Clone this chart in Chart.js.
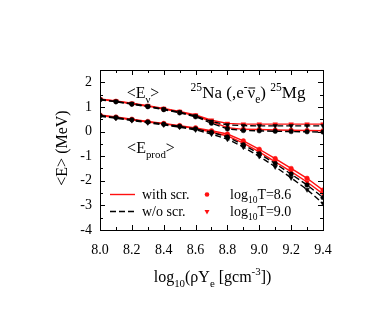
<!DOCTYPE html>
<html>
<head>
<meta charset="utf-8">
<script src="https://cdn.jsdelivr.net/npm/chart.js@4"></script>
<style>
  html, body { margin: 0; padding: 0; background: #fff; }
  #wrap { width: 371px; height: 335px; }
</style>
</head>
<body>
<div id="wrap"><canvas id="myChart"></canvas></div>
<script>
// log10(rho Ye)
var density = [8.0, 8.1, 8.2, 8.3, 8.4, 8.5, 8.6, 8.7, 8.8, 8.9, 9.0, 9.1, 9.2, 9.3, 9.4];

// <E_nu>
var enuScr86   = [1.31, 1.23, 1.13, 1.03, 0.91, 0.79, 0.64, 0.40, 0.16, 0.09, 0.08, 0.06, 0.05, 0.04, 0.03];
var enuNoScr86 = [1.29, 1.21, 1.11, 1.01, 0.89, 0.76, 0.60, 0.34, 0.11, 0.04, 0.03, 0.01, 0.00, -0.01, -0.02];
var enuScr90   = [1.32, 1.24, 1.15, 1.05, 0.94, 0.82, 0.67, 0.46, 0.33, 0.30, 0.30, 0.30, 0.30, 0.30, 0.30];
var enuNoScr90 = [1.30, 1.22, 1.13, 1.03, 0.91, 0.79, 0.63, 0.41, 0.27, 0.24, 0.23, 0.23, 0.23, 0.23, 0.23];

// <E_prod>
var eprodScr86   = [0.67, 0.59, 0.50, 0.41, 0.33, 0.24, 0.15, 0.03, -0.10, -0.38, -0.72, -1.10, -1.50, -1.90, -2.38];
var eprodNoScr86 = [0.65, 0.57, 0.48, 0.39, 0.30, 0.21, 0.11, -0.03, -0.22, -0.54, -0.90, -1.30, -1.73, -2.17, -2.68];
var eprodScr90   = [0.65, 0.57, 0.48, 0.39, 0.31, 0.22, 0.12, -0.02, -0.18, -0.47, -0.83, -1.23, -1.63, -2.05, -2.53];
var eprodNoScr90 = [0.62, 0.54, 0.45, 0.36, 0.27, 0.18, 0.07, -0.10, -0.31, -0.63, -1.01, -1.43, -1.88, -2.36, -2.92];

var xTicks = [8.0, 8.2, 8.4, 8.6, 8.8, 9.0, 9.2, 9.4];
var yTicks = [2, 1, 0, -1, -2, -3, -4];

var RED = "#ff1010";
var FONT = "'Liberation Serif', 'DejaVu Serif', serif";

function pts(ys) {
  return density.map(function (x, i) { return { x: x, y: ys[i] }; });
}

function series(ys, scr, tri) {
  var c = scr ? RED : "#000";
  return {
    data: pts(ys),
    borderColor: c,
    backgroundColor: c,
    borderWidth: 1.4,
    borderDash: scr ? [] : [6, 3],
    pointStyle: tri ? "triangle" : "circle",
    pointRotation: tri ? 180 : 0,
    pointRadius: tri ? 2.7 : 2.3,
    pointBorderWidth: 0.5,
    tension: 0,
    fill: false
  };
}

// text with sub/superscripts: parts = [[text, shift]] shift 0 normal, -1 sub, 1 sup
function richWidth(ctx, parts, size) {
  var w = 0;
  parts.forEach(function (p) {
    var s = p[1] === 0 ? size : size * 0.68;
    ctx.font = s + "px " + FONT;
    w += ctx.measureText(p[0]).width;
  });
  return w;
}
function drawRich(ctx, parts, x, y, size, align, color) {
  var w = richWidth(ctx, parts, size);
  if (align === "center") x -= w / 2;
  if (align === "right") x -= w;
  ctx.fillStyle = color || "#000";
  ctx.textBaseline = "alphabetic";
  ctx.textAlign = "left";
  parts.forEach(function (p) {
    var s = p[1] === 0 ? size : size * 0.68;
    ctx.font = s + "px " + FONT;
    var dy = p[1] === -1 ? size * 0.3 : (p[1] === 1 ? -size * 0.42 : 0);
    ctx.fillText(p[0], x, y + dy);
    if (p[2]) { // overbar
      var tw = ctx.measureText(p[0]).width;
      ctx.fillRect(x + 1, y + dy - s * 0.62, tw - 1, 1);
    }
    x += ctx.measureText(p[0]).width;
  });
}

var decor = {
  id: "decor",
  afterDraw: function (chart) {
    var ctx = chart.ctx;
    var a = chart.chartArea;
    var xs = chart.scales.x, ys = chart.scales.y;
    ctx.save();
    ctx.strokeStyle = "#000";
    ctx.lineWidth = 1;
    ctx.strokeRect(Math.round(a.left) + 0.5, Math.round(a.top) + 0.5,
      Math.round(a.right - a.left), Math.round(a.bottom - a.top));

    // inward ticks
    ctx.beginPath();
    for (var v = 80; v <= 94; v++) {
      var px = Math.round(xs.getPixelForValue(v / 10)) + 0.5;
      var len = (v % 2 === 0) ? 5 : 3;
      ctx.moveTo(px, a.bottom); ctx.lineTo(px, a.bottom - len);
      ctx.moveTo(px, a.top); ctx.lineTo(px, a.top + len);
    }
    for (var k = -8; k <= 5; k++) {
      var py = Math.round(ys.getPixelForValue(k / 2)) + 0.5;
      var l2 = (k % 2 === 0) ? 5 : 3;
      ctx.moveTo(a.left, py); ctx.lineTo(a.left + l2, py);
      ctx.moveTo(a.right, py); ctx.lineTo(a.right - l2, py);
    }
    ctx.stroke();

    // tick labels
    ctx.fillStyle = "#000";
    ctx.font = "14px " + FONT;
    ctx.textAlign = "center";
    ctx.textBaseline = "middle";
    xTicks.forEach(function (t) {
      ctx.fillText(t.toFixed(1), xs.getPixelForValue(t), a.bottom + 20);
    });
    ctx.textAlign = "right";
    yTicks.forEach(function (t) {
      ctx.fillText(String(t), a.left - 8, ys.getPixelForValue(t));
    });

    // axis titles
    drawRich(ctx, [["log", 0], ["10", -1], ["(\u03c1Y", 0], ["e", -1], [" [gcm", 0], ["-3", 1], ["])", 0]],
      (a.left + a.right) / 2 + 1, a.bottom + 52, 16, "center");
    ctx.save();
    ctx.translate(a.left - 38, (a.top + a.bottom) / 2 - 2);
    ctx.rotate(-Math.PI / 2);
    drawRich(ctx, [["<E> (MeV)", 0]], 0, 5, 16, "center");
    ctx.restore();

    // annotations
    drawRich(ctx, [["<E", 0], ["\u03bd", -1], [">", 0]], 143, 98, 16, "center");
    drawRich(ctx, [["<E", 0], ["prod", -1], [">", 0]], 151, 153, 16, "center");
    drawRich(ctx, [["25", 1], ["Na (,e", 0], ["-", 1], ["\u03bd", 0, true], ["e", -1], [") ", 0], ["25", 1], ["Mg", 0]],
      248, 98, 17, "center");

    // legend
    ctx.lineWidth = 1.4;
    ctx.strokeStyle = RED;
    ctx.setLineDash([]);
    ctx.beginPath(); ctx.moveTo(110, 194.5); ctx.lineTo(135, 194.5); ctx.stroke();
    ctx.strokeStyle = "#000";
    ctx.setLineDash([6, 3]);
    ctx.beginPath(); ctx.moveTo(110, 211.5); ctx.lineTo(135, 211.5); ctx.stroke();
    ctx.setLineDash([]);
    drawRich(ctx, [["with scr.", 0]], 142, 199, 14, "left");
    drawRich(ctx, [["w/o scr.", 0]], 142, 216, 14, "left");
    ctx.fillStyle = RED;
    ctx.beginPath(); ctx.arc(207, 194.5, 2.3, 0, Math.PI * 2); ctx.fill();
    ctx.beginPath(); ctx.moveTo(204.5, 210); ctx.lineTo(209.5, 210); ctx.lineTo(207, 214.5); ctx.closePath(); ctx.fill();
    drawRich(ctx, [["log", 0], ["10", -1], ["T=8.6", 0]], 230, 199, 14, "left");
    drawRich(ctx, [["log", 0], ["10", -1], ["T=9.0", 0]], 230, 216, 14, "left");
    ctx.restore();
  }
};

var ctx = document.getElementById("myChart");
var myChart = new Chart(ctx, {
  type: "line",
  data: {
    datasets: [
      series(enuNoScr86, false, false),
      series(enuNoScr90, false, true),
      series(eprodNoScr86, false, false),
      series(eprodNoScr90, false, true),
      series(enuScr86, true, false),
      series(enuScr90, true, true),
      series(eprodScr86, true, false),
      series(eprodScr90, true, true)
    ]
  },
  options: {
    responsive: true,
    maintainAspectRatio: false,
    animation: false,
    devicePixelRatio: 1,
    layout: { padding: { left: 100, right: 48, top: 70, bottom: 105 } },
    plugins: { legend: { display: false }, tooltip: { enabled: false } },
    scales: {
      x: {
        type: "linear", min: 8.0, max: 9.4,
        ticks: { display: false },
        grid: { display: false, drawTicks: false },
        border: { display: false }
      },
      y: {
        type: "linear", min: -4, max: 2.5,
        ticks: { display: false },
        grid: { display: false, drawTicks: false },
        border: { display: false }
      }
    }
  },
  plugins: [decor]
});
</script>
</body>
</html>
